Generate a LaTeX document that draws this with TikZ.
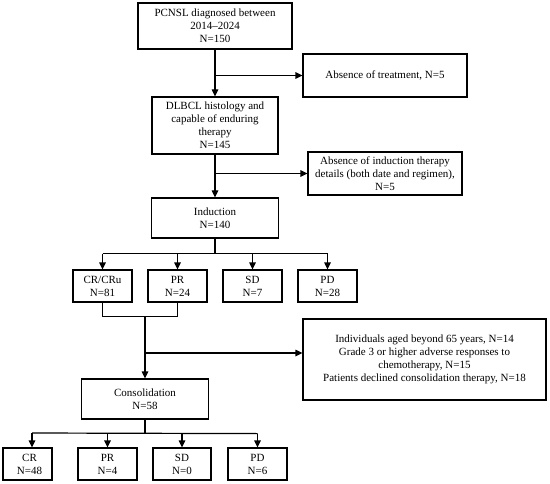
\documentclass[tikz,border=0pt]{standalone}
\usepackage{fontspec}
\setmainfont{Liberation Serif}
\usetikzlibrary{arrows.meta}
\begin{document}
\begin{tikzpicture}[x=1bp,y=-1bp,
  box/.style={draw, line width=1.2bp, align=center, inner sep=0pt,
    font=\fontsize{11bp}{13bp}\selectfont},
  wh/.style 2 args={minimum width=#1bp, minimum height=#2bp},
  ln/.style={line width=1.2bp},
  arr/.style={line width=1.2bp,-{Triangle[length=7bp,width=6.5bp]}}]
\useasboundingbox (0,0) rectangle (550,484);
\node[box, wh={154}{46}] (b1) at (215,26) {PCNSL diagnosed between\\2014–2024\\N=150};
\node[box, wh={164}{43}] (a1) at (385,75.5) {Absence of treatment, N=5};
\node[box, wh={126}{57}] (b2) at (215,125.5) {DLBCL histology and\\capable of enduring\\therapy\\N=145};
\node[box, wh={154}{43}] (a2) at (385,173.5) {Absence of induction therapy\\details (both date and regimen),\\N=5};
\node[box, wh={127}{40}] (ind) at (215,218) {Induction\\N=140};
\node[box, wh={59}{32}] (r1) at (102.5,286) {CR/CRu\\N=81};
\node[box, wh={59}{32}] (r2) at (177.5,286) {PR\\N=24};
\node[box, wh={59}{32}] (r3) at (252.5,286) {SD\\N=7};
\node[box, wh={59}{32}] (r4) at (327.5,286) {PD\\N=28};
\node[box, wh={243}{81}] (big) at (424.5,359.5) {Individuals aged beyond 65 years, N=14\\Grade 3 or higher adverse responses to\\chemotherapy, N=15\\Patients declined consolidation therapy, N=18};
\node[box, wh={127}{40}] (cons) at (145,399) {Consolidation\\N=58};
\node[box, wh={49}{32}] (c1) at (27.5,464) {\hspace*{4bp}CR\\\hspace*{4bp}N=48};
\node[box, wh={59}{32}] (c2) at (107.5,464) {PR\\N=4};
\node[box, wh={58}{32}] (c3) at (182,464) {SD\\N=0};
\node[box, wh={59}{32}] (c4) at (257.5,464) {PD\\N=6};
% top chain
\draw[arr] (b1.south) -- (b2.north);
\coordinate (j1) at (b1.south |- a1.west);
\draw[arr] (j1) -- (a1.west);
\draw[arr] (b2.south) -- (ind.north);
\coordinate (j2) at (b2.south |- a2.west);
\draw[arr] (j2) -- (a2.west);
% induction split
\draw[ln] (ind.south) -- ++(0,15) coordinate (h1);
\draw[ln] (r1.north |- h1) -- (r4.north |- h1);
\foreach \n in {r1,r2,r3,r4} \draw[arr] (\n.north |- h1) -- (\n.north);
% merge CR/PR
\draw[ln] (r1.south) -- ++(0,14) coordinate (m0) -| (r2.south);
\coordinate (m1) at (cons.north |- m0);
\draw[arr] (m1) -- (cons.north);
\coordinate (j3) at (145,353);
\draw[arr] (j3) -- (j3 -| big.west);
% consolidation split
\draw[ln] (cons.south) -- ++(0,14) coordinate (h2);
\coordinate (k1) at (32,433);
\draw[ln] (k1) -- (c4.north |- h2);
\draw[arr] (k1) -- (k1 |- c1.north);
\foreach \n in {c2,c3,c4} \draw[arr] (\n.north |- h2) -- (\n.north);
\end{tikzpicture}
\end{document}
